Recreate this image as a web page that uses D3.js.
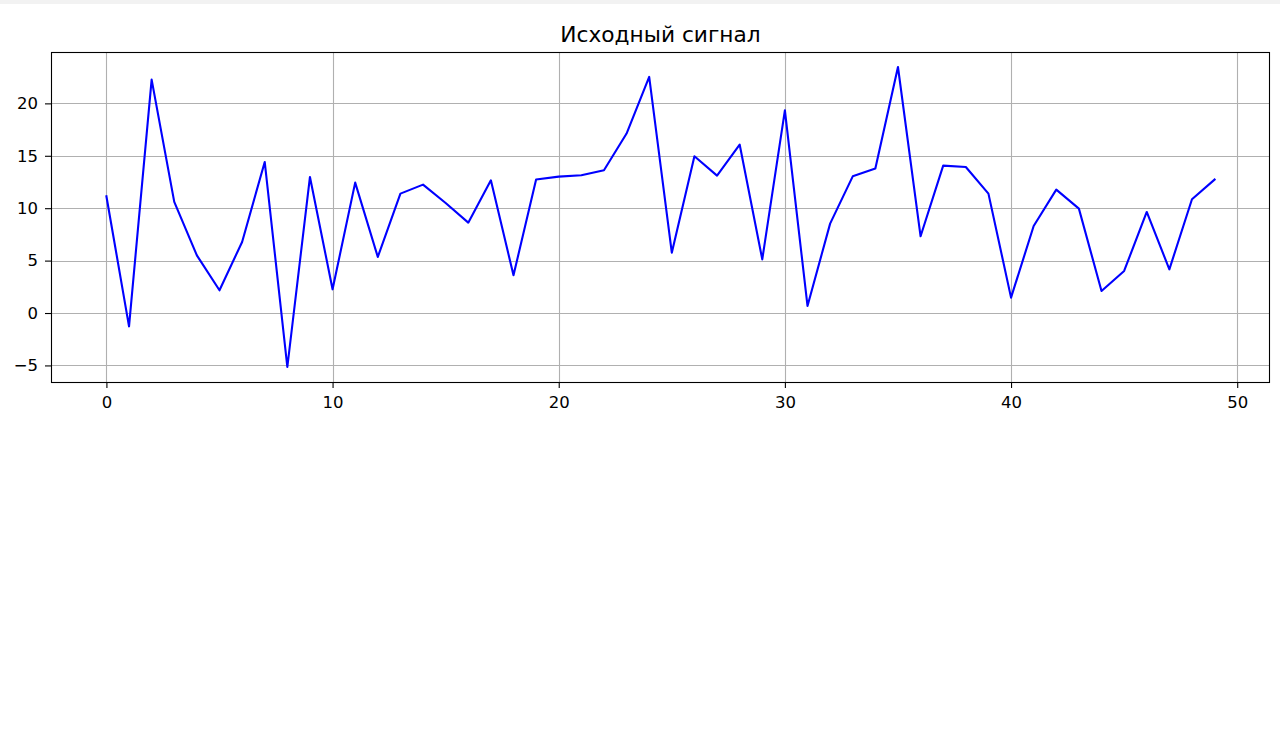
<!DOCTYPE html>
<html>
<head>
<meta charset="utf-8">
<script src="https://cdn.jsdelivr.net/npm/d3@7"></script>
<style>
  body { margin: 0; background: #fff; }
  svg { display: block; }
  .tick text { font-family: "DejaVu Sans", sans-serif; font-size: 16.5px; fill: #000; }
</style>
</head>
<body>
<svg id="chart" width="1280" height="749"></svg>
<script>
// signal samples
const xIndex = d3.range(50)
const signal = [
    11.14, -1.27, 22.27, 10.6, 5.5, 2.17, 6.78, 14.41, -5.15, 12.98,
    2.26, 12.44, 5.35, 11.39, 12.25, 10.5, 8.62, 12.66, 3.6, 12.73,
    13.01, 13.14, 13.62, 17.12, 22.52, 5.76, 14.95, 13.11, 16.07, 5.12,
    19.34, 0.67, 8.53, 13.04, 13.78, 23.47, 7.32, 14.06, 13.93, 11.39,
    1.47, 8.3, 11.77, 9.96, 2.1, 4.01, 9.64, 4.17, 10.85, 12.73
]
const xTicks = [0, 10, 20, 30, 40, 50]
const yTicks = [-5, 0, 5, 10, 15, 20]
const title = 'Исходный сигнал'

const margin = {left: 51, right: 10, top: 52, bottom: 367}
const svg = d3.select('#chart')
const W = 1280, H = 749
const plotW = W - margin.left - margin.right
const plotH = H - margin.top - margin.bottom

// thin grey strip at the very top
svg.append('rect').attr('x', 0).attr('y', 0).attr('width', W).attr('height', 4).attr('fill', '#f2f2f2')

// matplotlib style 5% margins
const xPad = (d3.max(xIndex) - d3.min(xIndex)) * 0.05
const yMin = d3.min(signal), yMax = d3.max(signal)
const yPad = (yMax - yMin) * 0.05

let x = d3.scaleLinear()
    .domain([d3.min(xIndex) - xPad, d3.max(xIndex) + xPad])
    .range([margin.left, margin.left + plotW])

let y = d3.scaleLinear()
    .domain([yMin - yPad, yMax + yPad])
    .range([margin.top + plotH, margin.top])

// grid
let grid = svg.append('g').attr('stroke', '#b0b0b0').attr('stroke-width', 1.1)
grid.selectAll('.vg').data(xTicks).join('line')
    .attr('x1', d => Math.round(x(d)) + 0.5).attr('x2', d => Math.round(x(d)) + 0.5)
    .attr('y1', margin.top).attr('y2', margin.top + plotH)
grid.selectAll('.hg').data(yTicks).join('line')
    .attr('x1', margin.left).attr('x2', margin.left + plotW)
    .attr('y1', d => Math.round(y(d)) + 0.5).attr('y2', d => Math.round(y(d)) + 0.5)

// line
let line = d3.line()
    .x((d, i) => x(xIndex[i]))
    .y(d => y(d))

svg.append('path')
    .datum(signal)
    .attr('fill', 'none')
    .attr('stroke', '#0000ff')
    .attr('stroke-width', 2.1)
    .attr('stroke-linejoin', 'round')
    .attr('stroke-linecap', 'square')
    .attr('d', line)

// axes
let xAxis = svg.append('g')
    .attr('transform', `translate(0,${margin.top + plotH})`)
    .call(d3.axisBottom(x).tickValues(xTicks).tickSize(6).tickPadding(8).tickFormat(d3.format('d')))
let yAxis = svg.append('g')
    .attr('transform', `translate(${margin.left},0)`)
    .call(d3.axisLeft(y).tickValues(yTicks).tickSize(6).tickPadding(7).tickFormat(d => d < 0 ? '\u2212' + Math.abs(d) : d))

xAxis.select('.domain').remove()
yAxis.select('.domain').remove()
svg.selectAll('.tick line').attr('stroke', '#000').attr('stroke-width', 1.1)

// frame
svg.append('rect')
    .attr('x', margin.left + 0.5).attr('y', margin.top + 0.5)
    .attr('width', plotW - 1).attr('height', plotH)
    .attr('fill', 'none').attr('stroke', '#000').attr('stroke-width', 1.1)

svg.append('text')
    .attr('x', margin.left + plotW / 2)
    .attr('y', 42)
    .attr('text-anchor', 'middle')
    .attr('font-family', '"DejaVu Sans", sans-serif')
    .attr('font-size', 21.7)
    .attr('fill', '#000')
    .text(title)
</script>
</body>
</html>
